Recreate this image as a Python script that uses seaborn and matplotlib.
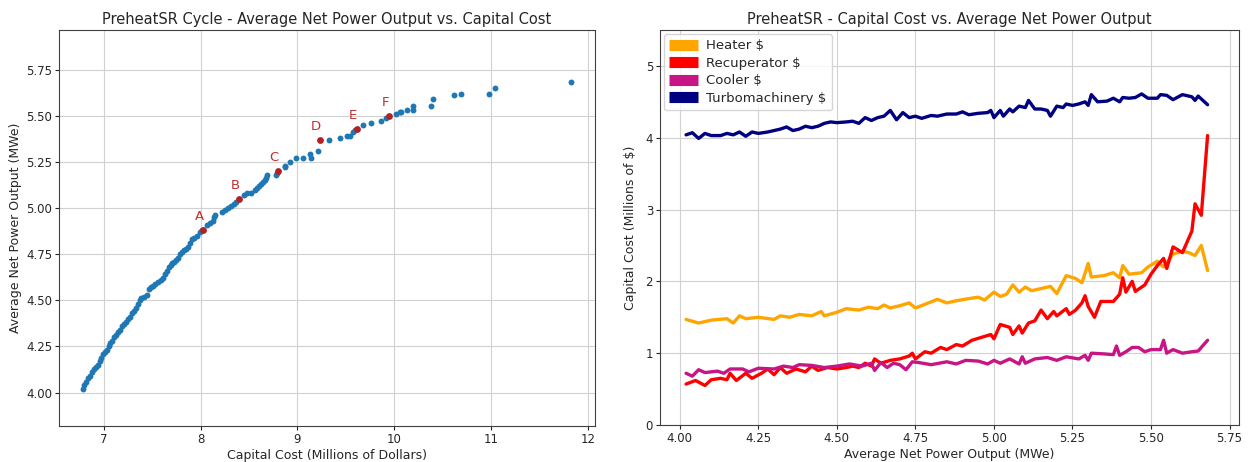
import numpy as np
import pandas as pd
import matplotlib
matplotlib.use("Agg")
import matplotlib.pyplot as plt
import seaborn as sns

# ---------------- Left chart data ----------------
capital_cost = [6.79, 6.80, 6.82, 6.84, 6.86, 6.88, 6.90, 6.92, 6.94, 6.96, 6.97, 6.99,
                7.01, 7.03, 7.05, 7.07, 7.09, 7.11, 7.13, 7.15, 7.17, 7.19, 7.21, 7.23,
                7.25, 7.27, 7.29, 7.31, 7.33, 7.35, 7.37, 7.39, 7.42, 7.45, 7.47, 7.49,
                7.51, 7.53, 7.56, 7.59, 7.61, 7.63, 7.65, 7.67, 7.69, 7.71, 7.73, 7.75,
                7.77, 7.79, 7.81, 7.83, 7.85, 7.87, 7.89, 7.91, 7.93, 7.96, 7.99, 8.01,
                8.07, 8.10, 8.13, 8.14, 8.15, 8.22, 8.25, 8.28, 8.31, 8.34, 8.37, 8.45,
                8.48, 8.52, 8.56, 8.58, 8.60, 8.62, 8.64, 8.66, 8.68, 8.69, 8.78, 8.79,
                8.87, 8.87, 8.92, 8.99, 9.06, 9.13, 9.14, 9.21, 9.33, 9.44, 9.51, 9.54,
                9.57, 9.59, 9.68, 9.76, 9.86, 9.91, 10.02, 10.06, 10.07, 10.13, 10.19,
                10.19, 10.38, 10.40, 10.62, 10.69, 10.98, 11.04, 11.82]
net_power = [4.02, 4.04, 4.06, 4.08, 4.09, 4.11, 4.13, 4.14, 4.15, 4.17, 4.19, 4.21,
             4.22, 4.23, 4.25, 4.27, 4.28, 4.30, 4.31, 4.33, 4.34, 4.36, 4.37, 4.38,
             4.40, 4.41, 4.43, 4.44, 4.46, 4.48, 4.50, 4.51, 4.52, 4.53, 4.56, 4.57,
             4.58, 4.59, 4.60, 4.61, 4.62, 4.64, 4.66, 4.68, 4.69, 4.70, 4.71, 4.72,
             4.73, 4.75, 4.76, 4.77, 4.78, 4.79, 4.81, 4.83, 4.84, 4.85, 4.87, 4.88,
             4.91, 4.92, 4.93, 4.95, 4.96, 4.98, 4.99, 5.00, 5.01, 5.02, 5.03, 5.07,
             5.08, 5.08, 5.10, 5.11, 5.12, 5.13, 5.14, 5.15, 5.16, 5.18, 5.18, 5.19,
             5.22, 5.23, 5.25, 5.27, 5.27, 5.29, 5.27, 5.31, 5.37, 5.38, 5.39, 5.39,
             5.41, 5.42, 5.45, 5.46, 5.47, 5.49, 5.51, 5.52, 5.52, 5.53, 5.53,
             5.55, 5.55, 5.59, 5.61, 5.62, 5.62, 5.65, 5.68]

point_labels = ["A", "B", "C", "D", "E", "F"]
point_cost = [8.03, 8.40, 8.80, 9.23, 9.61, 9.95]
point_power = [4.88, 5.05, 5.20, 5.37, 5.43, 5.50]

# ---------------- Right chart data ----------------
heater_x = [4.02, 4.06, 4.10, 4.15, 4.17, 4.19, 4.21, 4.25, 4.30, 4.32, 4.35, 4.38,
            4.42, 4.45, 4.46, 4.50, 4.53, 4.57, 4.60, 4.63, 4.65, 4.67, 4.70, 4.73,
            4.75, 4.78, 4.82, 4.85, 4.88, 4.92, 4.95, 4.97, 5.00, 5.02, 5.04, 5.06,
            5.08, 5.10, 5.12, 5.15, 5.18, 5.20, 5.23, 5.26, 5.28, 5.30, 5.31, 5.35,
            5.38, 5.40, 5.41, 5.43, 5.47, 5.49, 5.52, 5.54, 5.57, 5.60, 5.62, 5.64,
            5.66, 5.68]
heater_y = [1.47, 1.42, 1.46, 1.48, 1.42, 1.52, 1.48, 1.50, 1.47, 1.52, 1.50, 1.54,
            1.52, 1.58, 1.52, 1.57, 1.62, 1.60, 1.64, 1.62, 1.67, 1.63, 1.66, 1.70,
            1.63, 1.68, 1.75, 1.70, 1.73, 1.76, 1.78, 1.74, 1.85, 1.79, 1.82, 1.95,
            1.85, 1.92, 1.87, 1.90, 1.93, 1.83, 2.08, 2.04, 1.98, 2.25, 2.06, 2.08,
            2.12, 2.05, 2.22, 2.10, 2.12, 2.20, 2.28, 2.20, 2.38, 2.42, 2.40, 2.36,
            2.50, 2.15]

recup_x = [4.02, 4.05, 4.08, 4.10, 4.13, 4.15, 4.16, 4.18, 4.21, 4.23, 4.26, 4.28,
           4.30, 4.32, 4.34, 4.37, 4.40, 4.42, 4.44, 4.47, 4.50, 4.53, 4.55, 4.57,
           4.59, 4.61, 4.62, 4.64, 4.67, 4.70, 4.73, 4.74, 4.75, 4.78, 4.80, 4.83,
           4.85, 4.88, 4.90, 4.93, 4.96, 4.99, 5.00, 5.02, 5.05, 5.06, 5.08, 5.09,
           5.11, 5.13, 5.15, 5.17, 5.19, 5.20, 5.23, 5.24, 5.26, 5.28, 5.29, 5.30,
           5.32, 5.34, 5.38, 5.40, 5.41, 5.42, 5.44, 5.45, 5.48, 5.50, 5.52, 5.54,
           5.55, 5.57, 5.60, 5.63, 5.64, 5.66, 5.68]
recup_y = [0.57, 0.62, 0.55, 0.63, 0.65, 0.63, 0.72, 0.62, 0.72, 0.65, 0.72, 0.78,
           0.70, 0.80, 0.72, 0.78, 0.74, 0.82, 0.76, 0.80, 0.78, 0.80, 0.82, 0.80,
           0.86, 0.82, 0.92, 0.86, 0.90, 0.92, 0.96, 1.00, 0.92, 1.02, 1.00, 1.08,
           1.05, 1.12, 1.10, 1.18, 1.22, 1.26, 1.20, 1.40, 1.36, 1.26, 1.38, 1.28,
           1.42, 1.45, 1.60, 1.48, 1.58, 1.52, 1.62, 1.54, 1.60, 1.70, 1.80, 1.65,
           1.50, 1.72, 1.72, 1.82, 2.05, 1.85, 2.00, 1.86, 1.95, 2.10, 2.22, 2.32,
           2.18, 2.48, 2.40, 2.70, 3.08, 2.92, 4.03]

cooler_x = [4.02, 4.04, 4.06, 4.08, 4.12, 4.14, 4.16, 4.20, 4.22, 4.25, 4.30, 4.33,
            4.36, 4.38, 4.42, 4.46, 4.50, 4.54, 4.58, 4.61, 4.62, 4.64, 4.66, 4.68,
            4.70, 4.72, 4.74, 4.76, 4.80, 4.85, 4.88, 4.91, 4.95, 4.98, 5.00, 5.02,
            5.05, 5.08, 5.09, 5.10, 5.13, 5.17, 5.20, 5.23, 5.27, 5.29, 5.30, 5.31,
            5.35, 5.38, 5.39, 5.40, 5.42, 5.44, 5.46, 5.48, 5.50, 5.53, 5.54, 5.55,
            5.57, 5.60, 5.63, 5.65, 5.68]
cooler_y = [0.72, 0.68, 0.77, 0.73, 0.75, 0.72, 0.78, 0.78, 0.74, 0.79, 0.78, 0.82,
            0.80, 0.84, 0.83, 0.80, 0.82, 0.85, 0.82, 0.86, 0.76, 0.87, 0.80, 0.86,
            0.84, 0.77, 0.88, 0.87, 0.84, 0.88, 0.85, 0.90, 0.89, 0.85, 0.90, 0.86,
            0.92, 0.85, 0.95, 0.86, 0.92, 0.94, 0.90, 0.95, 0.92, 0.97, 0.90, 1.00,
            0.99, 0.98, 1.10, 0.97, 1.02, 1.08, 1.08, 1.02, 1.05, 1.05, 1.18, 1.00,
            1.05, 1.00, 1.02, 1.03, 1.18]

turbo_x = [4.02, 4.04, 4.06, 4.08, 4.10, 4.13, 4.15, 4.17, 4.19, 4.21, 4.23, 4.25,
           4.28, 4.30, 4.32, 4.34, 4.36, 4.38, 4.40, 4.42, 4.44, 4.46, 4.48, 4.50,
           4.53, 4.55, 4.57, 4.59, 4.61, 4.63, 4.65, 4.67, 4.69, 4.71, 4.73, 4.75,
           4.77, 4.80, 4.82, 4.85, 4.88, 4.90, 4.92, 4.95, 4.98, 4.99, 5.00, 5.02,
           5.03, 5.05, 5.06, 5.08, 5.10, 5.11, 5.13, 5.15, 5.17, 5.18, 5.20, 5.22,
           5.23, 5.25, 5.27, 5.29, 5.30, 5.31, 5.33, 5.36, 5.38, 5.40, 5.41, 5.43,
           5.45, 5.47, 5.49, 5.52, 5.53, 5.55, 5.57, 5.60, 5.63, 5.64, 5.65, 5.68]
turbo_y = [4.04, 4.07, 3.99, 4.06, 4.03, 4.03, 4.06, 4.04, 4.08, 4.02, 4.08, 4.06,
           4.08, 4.10, 4.12, 4.15, 4.10, 4.12, 4.16, 4.14, 4.16, 4.20, 4.22, 4.21,
           4.22, 4.23, 4.20, 4.28, 4.24, 4.28, 4.30, 4.38, 4.25, 4.35, 4.28, 4.30,
           4.27, 4.31, 4.30, 4.33, 4.33, 4.36, 4.32, 4.34, 4.35, 4.38, 4.28, 4.38,
           4.30, 4.40, 4.36, 4.44, 4.42, 4.52, 4.40, 4.40, 4.38, 4.30, 4.44, 4.42,
           4.47, 4.45, 4.47, 4.50, 4.45, 4.60, 4.50, 4.51, 4.55, 4.50, 4.56, 4.55,
           4.56, 4.61, 4.55, 4.55, 4.60, 4.59, 4.53, 4.60, 4.57, 4.52, 4.58, 4.46]

series_names = ["Heater \\$", "Recuperator \\$", "Cooler \\$", "Turbomachinery \\$"]
series_colors = ["#FFA500", "#FF0000", "#C71585", "#000080"]

# ---------------- Style ----------------
sns.set_style("whitegrid", {
    "axes.edgecolor": "0.25",
    "grid.color": "0.82",
    "xtick.bottom": True,
    "ytick.left": True,
    "axes.labelcolor": "0.15",
    "text.color": "0.15",
    "xtick.color": "0.15",
    "ytick.color": "0.15",
})
plt.rcParams["font.family"] = ["DejaVu Sans"]

fig = plt.figure(figsize=(12.52, 4.62), dpi=100)
ax1 = fig.add_axes([59 / 1252, 36 / 462, 536 / 1252, 396 / 462])
ax2 = fig.add_axes([660 / 1252, 37 / 462, 579 / 1252, 395 / 462])

# ---------------- Left chart ----------------
left_df = pd.DataFrame({"cost": capital_cost, "power": net_power})
sns.scatterplot(data=left_df, x="cost", y="power", ax=ax1, color="#1f77b4",
                s=18, linewidth=0, zorder=3)
pts_df = pd.DataFrame({"cost": point_cost, "power": point_power, "label": point_labels})
sns.scatterplot(data=pts_df, x="cost", y="power", ax=ax1, color="#b22222",
                s=24, linewidth=0, zorder=4)
for lab, cx, py in zip(point_labels, point_cost, point_power):
    ax1.annotate(lab, (cx, py), xytext=(-3, 5), textcoords="offset points",
                 ha="center", va="bottom", fontsize=9.5, color="#c03030")

ax1.set_ylim(min(net_power) * 0.95, max(net_power) * 1.05)
ax1.set_xticks([7, 8, 9, 10, 11, 12])
ax1.set_yticks([4.00, 4.25, 4.50, 4.75, 5.00, 5.25, 5.50, 5.75])
ax1.set_yticklabels(["4.00", "4.25", "4.50", "4.75", "5.00", "5.25", "5.50", "5.75"])
ax1.set_title("PreheatSR Cycle - Average Net Power Output vs. Capital Cost", fontsize=10.5, pad=4)
ax1.set_xlabel("Capital Cost (Millions of Dollars)", fontsize=9, labelpad=2)
ax1.set_ylabel("Average Net Power Output (MWe)", fontsize=9, labelpad=3)
ax1.tick_params(labelsize=8.5, length=3, pad=2)

# ---------------- Right chart ----------------
xs = [heater_x, recup_x, cooler_x, turbo_x]
ys = [heater_y, recup_y, cooler_y, turbo_y]
for name, col, x, y in zip(series_names, series_colors, xs, ys):
    df = pd.DataFrame({"power": x, "cost": y})
    sns.lineplot(data=df, x="power", y="cost", ax=ax2, color=col, linewidth=2.4,
                 estimator=None, sort=False, label=name)

ax2.set_xlim(3.937, 5.78)
ax2.set_ylim(0, 5.5)
ax2.set_xticks([4.00, 4.25, 4.50, 4.75, 5.00, 5.25, 5.50, 5.75])
ax2.set_xticklabels(["4.00", "4.25", "4.50", "4.75", "5.00", "5.25", "5.50", "5.75"])
ax2.set_yticks([0, 1, 2, 3, 4, 5])
ax2.set_title("PreheatSR - Capital Cost vs. Average Net Power Output", fontsize=10.5, pad=4)
ax2.set_xlabel("Average Net Power Output (MWe)", fontsize=9, labelpad=2)
ax2.set_ylabel("Capital Cost (Millions of \\$)", fontsize=9, labelpad=6)
ax2.tick_params(labelsize=8.5, length=3, pad=2)
leg = ax2.legend(loc="upper left", fontsize=9.5, frameon=True, handlelength=2.2,
                 borderaxespad=0.3, labelspacing=0.35, handletextpad=0.6)
for h in leg.get_lines():
    h.set_linewidth(8)
    h.set_solid_capstyle("butt")

fig.savefig("out.png", dpi=100)
